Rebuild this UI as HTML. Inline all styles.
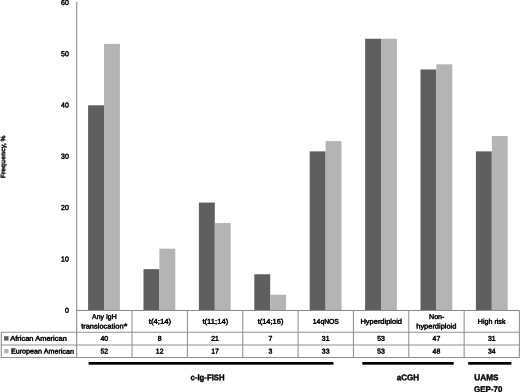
<!DOCTYPE html>
<html><head><meta charset="utf-8"><title>Chart</title>
<style>html,body{margin:0;padding:0;background:#fff}svg{display:block}</style></head>
<body>
<svg width="520" height="392" viewBox="0 0 520 392">
<rect width="520" height="392" fill="#fff"/>
<rect x="88.10" y="105.30" width="15.9" height="205.10" fill="#5f5f5f"/>
<rect x="104.00" y="43.86" width="15.9" height="266.54" fill="#b4b4b4"/>
<rect x="143.50" y="269.14" width="15.9" height="41.26" fill="#5f5f5f"/>
<rect x="159.40" y="248.66" width="15.9" height="61.74" fill="#b4b4b4"/>
<rect x="198.90" y="202.58" width="15.9" height="107.82" fill="#5f5f5f"/>
<rect x="214.80" y="223.06" width="15.9" height="87.34" fill="#b4b4b4"/>
<rect x="254.30" y="274.26" width="15.9" height="36.14" fill="#5f5f5f"/>
<rect x="270.20" y="294.74" width="15.9" height="15.66" fill="#b4b4b4"/>
<rect x="309.70" y="151.38" width="15.9" height="159.02" fill="#5f5f5f"/>
<rect x="325.60" y="141.14" width="15.9" height="169.26" fill="#b4b4b4"/>
<rect x="365.10" y="38.74" width="15.9" height="271.66" fill="#5f5f5f"/>
<rect x="381.00" y="38.74" width="15.9" height="271.66" fill="#b4b4b4"/>
<rect x="420.50" y="69.46" width="15.9" height="240.94" fill="#5f5f5f"/>
<rect x="436.40" y="64.34" width="15.9" height="246.06" fill="#b4b4b4"/>
<rect x="475.90" y="151.38" width="15.9" height="159.02" fill="#5f5f5f"/>
<rect x="491.80" y="136.02" width="15.9" height="174.38" fill="#b4b4b4"/>
<g stroke="#8a8a8a" stroke-width="1.05" fill="none">
<line x1="76.7" y1="2" x2="76.7" y2="357.4"/>
<line x1="76.7" y1="310.4" x2="519.4" y2="310.4"/>
<line x1="0.8" y1="332.3" x2="519.9" y2="332.3" stroke="#909090"/>
<line x1="0.8" y1="344.95" x2="519.9" y2="344.95" stroke="#909090"/>
<line x1="0.8" y1="357.4" x2="519.9" y2="357.4" stroke="#909090"/>
<line x1="1.3" y1="332.3" x2="1.3" y2="357.4"/>
<line x1="132.05" y1="310.4" x2="132.05" y2="357.4" stroke="#909090"/>
<line x1="187.40" y1="310.4" x2="187.40" y2="357.4" stroke="#909090"/>
<line x1="242.75" y1="310.4" x2="242.75" y2="357.4" stroke="#909090"/>
<line x1="298.10" y1="310.4" x2="298.10" y2="357.4" stroke="#909090"/>
<line x1="353.45" y1="310.4" x2="353.45" y2="357.4" stroke="#909090"/>
<line x1="408.80" y1="310.4" x2="408.80" y2="357.4" stroke="#909090"/>
<line x1="464.15" y1="310.4" x2="464.15" y2="357.4" stroke="#909090"/>
<line x1="519.40" y1="310.4" x2="519.40" y2="357.4" stroke="#909090"/>
</g>
<rect x="4.1" y="336.2" width="4.4" height="4.4" fill="#5f5f5f"/>
<rect x="4.1" y="349.0" width="4.4" height="4.4" fill="#b4b4b4"/>
<g font-family="'Liberation Sans', Arial, sans-serif" fill="#000" stroke="#000">
<text transform="translate(92.08,318.90) rotate(0.03) scale(1.0026,1)" font-size="6.9" font-weight="normal" stroke-width="0.45">Any IgH</text>
<text transform="translate(81.14,328.50) rotate(0.03) scale(1.0860,1)" font-size="6.9" font-weight="normal" stroke-width="0.45">translocation<tspan dx="0.1" dy="0.8" font-size="8.5" font-weight="bold" stroke-width="0.3">*</tspan></text>
<text transform="translate(148.75,323.80) rotate(0.03) scale(1.1260,1)" font-size="6.9" font-weight="normal" stroke-width="0.45">t(4;14)</text>
<text transform="translate(202.45,323.80) rotate(0.03) scale(1.1094,1)" font-size="6.9" font-weight="normal" stroke-width="0.45">t(11;14)</text>
<text transform="translate(257.64,323.80) rotate(0.03) scale(1.0878,1)" font-size="6.9" font-weight="normal" stroke-width="0.45">t(14;16)</text>
<text transform="translate(312.82,323.80) rotate(0.03) scale(0.9860,1)" font-size="6.9" font-weight="normal" stroke-width="0.45">14qNOS</text>
<text transform="translate(360.44,323.80) rotate(0.03) scale(1.0843,1)" font-size="6.9" font-weight="normal" stroke-width="0.45">Hyperdiploid</text>
<text transform="translate(429.03,318.90) rotate(0.03) scale(1.0271,1)" font-size="6.9" font-weight="normal" stroke-width="0.45">Non-</text>
<text transform="translate(416.24,328.50) rotate(0.03) scale(1.0800,1)" font-size="6.9" font-weight="normal" stroke-width="0.45">hyperdiploid</text>
<text transform="translate(477.83,323.80) rotate(0.03) scale(1.0321,1)" font-size="6.9" font-weight="normal" stroke-width="0.45">High risk</text>
<text transform="translate(10.15,340.80) rotate(0.03) scale(1.0889,1)" font-size="6.9" font-weight="normal" stroke-width="0.45">African American</text>
<text transform="translate(10.93,353.60) rotate(0.03) scale(1.0419,1)" font-size="6.9" font-weight="normal" stroke-width="0.45">European American</text>
<text transform="translate(100.46,340.80) rotate(0.03) scale(1.0000,1)" font-size="6.9" font-weight="normal" stroke-width="0.45">40</text>
<text transform="translate(100.46,353.60) rotate(0.03) scale(1.0000,1)" font-size="6.9" font-weight="normal" stroke-width="0.45">52</text>
<text transform="translate(157.73,340.80) rotate(0.03) scale(1.0000,1)" font-size="6.9" font-weight="normal" stroke-width="0.45">8</text>
<text transform="translate(155.81,353.60) rotate(0.03) scale(1.0000,1)" font-size="6.9" font-weight="normal" stroke-width="0.45">12</text>
<text transform="translate(211.16,340.80) rotate(0.03) scale(1.0000,1)" font-size="6.9" font-weight="normal" stroke-width="0.45">21</text>
<text transform="translate(211.16,353.60) rotate(0.03) scale(1.0000,1)" font-size="6.9" font-weight="normal" stroke-width="0.45">17</text>
<text transform="translate(268.43,340.80) rotate(0.03) scale(1.0000,1)" font-size="6.9" font-weight="normal" stroke-width="0.45">7</text>
<text transform="translate(268.43,353.60) rotate(0.03) scale(1.0000,1)" font-size="6.9" font-weight="normal" stroke-width="0.45">3</text>
<text transform="translate(321.86,340.80) rotate(0.03) scale(1.0000,1)" font-size="6.9" font-weight="normal" stroke-width="0.45">31</text>
<text transform="translate(321.86,353.60) rotate(0.03) scale(1.0000,1)" font-size="6.9" font-weight="normal" stroke-width="0.45">33</text>
<text transform="translate(377.21,340.80) rotate(0.03) scale(1.0000,1)" font-size="6.9" font-weight="normal" stroke-width="0.45">53</text>
<text transform="translate(377.21,353.60) rotate(0.03) scale(1.0000,1)" font-size="6.9" font-weight="normal" stroke-width="0.45">53</text>
<text transform="translate(432.56,340.80) rotate(0.03) scale(1.0000,1)" font-size="6.9" font-weight="normal" stroke-width="0.45">47</text>
<text transform="translate(432.56,353.60) rotate(0.03) scale(1.0000,1)" font-size="6.9" font-weight="normal" stroke-width="0.45">48</text>
<text transform="translate(487.91,340.80) rotate(0.03) scale(1.0000,1)" font-size="6.9" font-weight="normal" stroke-width="0.45">31</text>
<text transform="translate(487.91,353.60) rotate(0.03) scale(1.0000,1)" font-size="6.9" font-weight="normal" stroke-width="0.45">34</text>
<text transform="translate(65.01,312.70) rotate(0.03) scale(0.9600,1)" font-size="7.3" font-weight="normal" stroke-width="0.45">0</text>
<text transform="translate(61.11,261.40) rotate(0.03) scale(0.9600,1)" font-size="7.3" font-weight="normal" stroke-width="0.45">10</text>
<text transform="translate(61.11,210.10) rotate(0.03) scale(0.9600,1)" font-size="7.3" font-weight="normal" stroke-width="0.45">20</text>
<text transform="translate(61.11,158.80) rotate(0.03) scale(0.9600,1)" font-size="7.3" font-weight="normal" stroke-width="0.45">30</text>
<text transform="translate(61.11,107.50) rotate(0.03) scale(0.9600,1)" font-size="7.3" font-weight="normal" stroke-width="0.45">40</text>
<text transform="translate(61.11,56.20) rotate(0.03) scale(0.9600,1)" font-size="7.3" font-weight="normal" stroke-width="0.45">50</text>
<text transform="translate(61.11,4.90) rotate(0.03) scale(0.9600,1)" font-size="7.3" font-weight="normal" stroke-width="0.45">60</text>
<text transform="translate(190.59,380.15) rotate(0.03) scale(0.9343,1)" font-size="8.3" font-weight="bold" stroke-width="0.4">c-Ig-FISH</text>
<text transform="translate(396.70,380.15) rotate(0.03) scale(0.9761,1)" font-size="8.3" font-weight="bold" stroke-width="0.4">aCGH</text>
<text transform="translate(474.30,380.15) rotate(0.03) scale(0.9923,1)" font-size="8.3" font-weight="bold" stroke-width="0.4">UAMS</text>
<text transform="translate(474.09,391.90) rotate(0.03) scale(0.9571,1)" font-size="8.3" font-weight="bold" stroke-width="0.4">GEP-70</text>
<text transform="translate(5.15,178.35) rotate(-90.03) scale(1.0136,1)" font-size="6.6" font-weight="bold" stroke-width="0.3">Frequency, %</text>
</g>
<g fill="#000">
<rect x="88.6" y="362.0" width="244.9" height="2.7"/>
<rect x="362.3" y="362.0" width="91.4" height="2.7"/>
<rect x="468.2" y="362.0" width="43.2" height="2.7"/>
</g>
</svg>
</body></html>
